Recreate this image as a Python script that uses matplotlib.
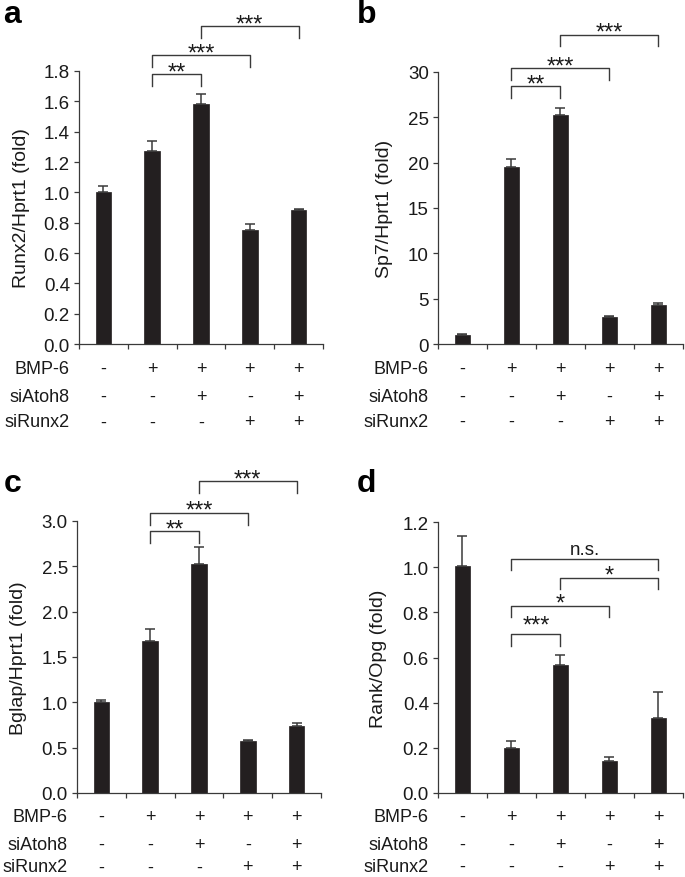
import matplotlib
matplotlib.use("Agg")
import matplotlib.pyplot as plt
from matplotlib.transforms import blended_transform_factory

plt.rcParams['font.family'] = ['Liberation Sans', 'DejaVu Sans']
plt.rcParams['font.size'] = 13.5

# conditions under each bar
rows = ['BMP-6', 'siAtoh8', 'siRunx2']
bmp6 = ['-', '+', '+', '+', '+']
siatoh8 = ['-', '-', '+', '-', '+']
sirunx2 = ['-', '-', '-', '+', '+']

# panel a: Runx2
runx2 = [1.00, 1.27, 1.58, 0.75, 0.885]
runx2_err = [0.04, 0.07, 0.07, 0.04, 0.005]
# panel b: Sp7
sp7 = [1.03, 19.5, 25.2, 2.95, 4.35]
sp7_err = [0.12, 0.9, 0.8, 0.12, 0.14]
# panel c: Bglap
bglap = [1.00, 1.68, 2.52, 0.57, 0.735]
bglap_err = [0.025, 0.13, 0.19, 0.012, 0.04]
# panel d: Rank/Opg
rankopg = [1.007, 0.20, 0.566, 0.14, 0.33]
rankopg_err = [0.13, 0.028, 0.043, 0.02, 0.115]

# significance brackets: (bar i, bar j, line height, label)
sig_a = [(1, 2, 1.78, '**'), (1, 3, 1.905, '***'), (2, 4, 2.095, '***')]
sig_b = [(1, 2, 28.4, '**'), (1, 3, 30.4, '***'), (2, 4, 34.1, '***')]
sig_c = [(1, 2, 2.886, '**'), (1, 3, 3.09, '***'), (2, 4, 3.44, '***')]
sig_d = [(1, 2, 0.704, '***'), (1, 3, 0.83, '*'), (2, 4, 0.953, '*'), (1, 4, 1.038, 'n.s.')]

BAR = '#231f20'
GREY = '#3a3a3a'
TXT = '#1a1a1a'

fig = plt.figure(figsize=(6.85, 8.78), dpi=100)

panels = [
    ('a', [0.1153, 0.607, 0.3562, 0.311], runx2, runx2_err, 1.8, [0, 0.2, 0.4, 0.6, 0.8, 1.0, 1.2, 1.4, 1.6, 1.8], '{:.1f}', 'Runx2/Hprt1 (fold)', sig_a, -0.2),
    ('b', [0.6394, 0.607, 0.3576, 0.310], sp7, sp7_err, 30, [0, 5, 10, 15, 20, 25, 30], '{:.0f}', 'Sp7/Hprt1 (fold)', sig_b, -0.184),
    ('c', [0.1124, 0.0957, 0.3562, 0.3098], bglap, bglap_err, 3.0, [0, 0.5, 1.0, 1.5, 2.0, 2.5, 3.0], '{:.1f}', 'Bglap/Hprt1 (fold)', sig_c, -0.205),
    ('d', [0.6394, 0.0957, 0.3576, 0.3086], rankopg, rankopg_err, 1.2, [0, 0.2, 0.4, 0.6, 0.8, 1.0, 1.2], '{:.1f}', 'Rank/Opg (fold)', sig_d, -0.208),
]

for letter, rect, vals, errs, ymax, yticks, fmt, ylabel, sigs, labx in panels:
    ax = fig.add_axes(rect)
    x = list(range(len(vals)))
    ax.bar(x, vals, width=0.32, color=BAR, edgecolor=BAR, linewidth=0.5, zorder=2)
    ax.errorbar(x, vals, yerr=[[0] * len(errs), errs], fmt='none', ecolor='#3a3a3a',
                elinewidth=1.1, capsize=3.5, capthick=1.1, zorder=3)
    ax.set_xlim(-0.5, 4.5)
    ax.set_ylim(0, ymax)
    ax.set_yticks(yticks)
    ax.set_yticklabels([fmt.format(t) for t in yticks])
    ax.set_xticks([k - 0.5 for k in range(6)])
    ax.set_xticklabels([])
    for s in ['top', 'right']:
        ax.spines[s].set_visible(False)
    for s in ['left', 'bottom']:
        ax.spines[s].set_color(GREY)
        ax.spines[s].set_linewidth(0.9)
    ax.tick_params(axis='both', direction='out', length=3.5, width=0.9, color=GREY, labelcolor=TXT)
    ax.tick_params(axis='y', pad=3)
    ax.set_ylabel(ylabel, color=TXT, fontsize=14)
    ax.yaxis.set_label_coords(labx, 0.5)

    # condition table below the axis
    tr = blended_transform_factory(ax.transData, ax.transAxes)
    if letter in 'ab':
        row_y = [-0.09, -0.193, -0.285]
    else:
        row_y = [-0.085, -0.19, -0.272]
    for r, (name, signs) in enumerate(zip(rows, [bmp6, siatoh8, sirunx2])):
        yy = row_y[r]
        ax.text(-0.04, yy, name, transform=ax.transAxes, ha='right', va='center', color=TXT, fontsize=13)
        for k, sgn in enumerate(signs):
            ax.text(k, yy, sgn, transform=tr, ha='center', va='center', color=TXT, fontsize=13)

    # brackets
    leg = 0.043 * ymax
    for i, j, yl, lab in sigs:
        ax.plot([i, i, j, j], [yl - leg, yl, yl, yl - leg], color=GREY, lw=1.0, clip_on=False)
        fs = 17
        off = -3.0
        if lab == '***' and letter == 'd':
            off = 1.5
        if lab == 'n.s.':
            fs = 13.5
            off = 3.0
        ax.annotate(lab, xy=((i + j) / 2, yl), xytext=(0, off), textcoords='offset points',
                    ha='center', va='baseline', fontsize=fs, color=TXT, annotation_clip=False)

# panel letters
fig.text(0.005, 1 - 23 / 878, 'a', fontsize=23, fontweight='bold', va='baseline')
fig.text(357 / 685, 1 - 23 / 878, 'b', fontsize=23, fontweight='bold', va='baseline')
fig.text(0.005, 1 - 492 / 878, 'c', fontsize=23, fontweight='bold', va='baseline')
fig.text(357 / 685, 1 - 492 / 878, 'd', fontsize=23, fontweight='bold', va='baseline')

fig.savefig('out.png', dpi=100)
